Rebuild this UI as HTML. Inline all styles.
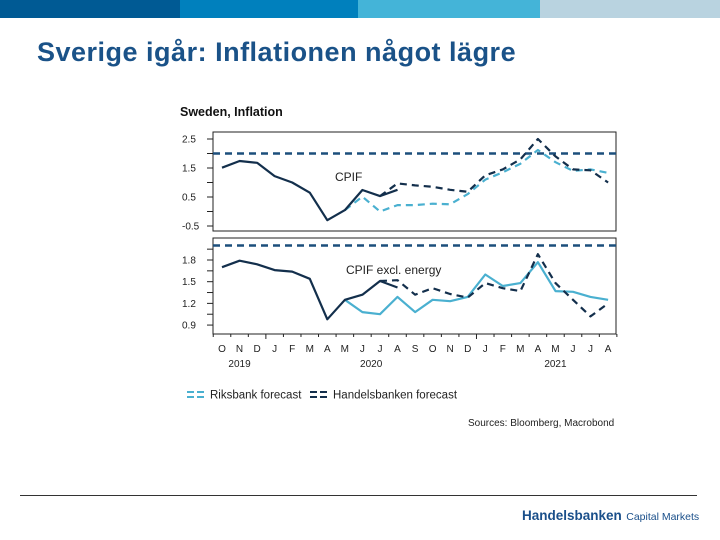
<!DOCTYPE html>
<html><head><meta charset="utf-8"><style>
body{margin:0;width:720px;height:540px;background:#fff;overflow:hidden;font-family:"Liberation Sans",sans-serif;position:relative}
.bar{position:absolute;top:0;height:18px}
</style></head><body>
<div class="bar" style="left:0;width:180px;background:#005a94"></div>
<div class="bar" style="left:180px;width:178px;background:#0080bd"></div>
<div class="bar" style="left:358px;width:182px;background:#44b4d8"></div>
<div class="bar" style="left:540px;width:180px;background:#b9d3e0"></div>
<div style="position:absolute;left:37px;top:37px;font-size:27px;letter-spacing:0.5px;font-weight:bold;color:#1a5288;white-space:nowrap">Sverige igår: Inflationen något lägre</div>
<svg id="chart" width="720" height="540" style="position:absolute;left:0;top:0" font-family="Liberation Sans, sans-serif"></svg>
<div style="position:absolute;left:20px;top:495px;width:677px;height:1px;background:#333"></div>
<div style="position:absolute;left:522px;top:507px;color:#1a4f8a;white-space:nowrap"><b style="font-size:13.5px">Handelsbanken</b> <span style="font-size:10.5px">Capital Markets</span></div>
<script>
const months=["O","N","D","J","F","M","A","M","J","J","A","S","O","N","D","J","F","M","A","M","J","J","A"];
const years=["2019","2020","2021"];
const yearIdx=[1,8.5,19];
const topTicks=[2.5,1.5,0.5,-0.5];
const botTicks=[1.8,1.5,1.2,0.9];
const target=2.0;
const cpifOutcome=[1.51,1.74,1.68,1.22,1.0,0.65,-0.3,0.05,0.74,0.53,0.75];
const cpifHB=[0.53,0.97,0.9,0.85,0.75,0.68,1.25,1.45,1.8,2.5,1.9,1.45,1.42,1.0];
const cpifRB=[0.05,0.51,0.0,0.22,0.22,0.27,0.25,0.6,1.1,1.35,1.65,2.12,1.7,1.4,1.45,1.33];
const exOutcome=[1.70,1.79,1.74,1.66,1.64,1.54,0.98,1.25,1.32,1.51,1.42];
const exHB=[1.51,1.52,1.32,1.41,1.33,1.28,1.48,1.41,1.37,1.88,1.48,1.25,1.02,1.2];
const exRB=[1.25,1.08,1.05,1.29,1.08,1.25,1.23,1.29,1.6,1.44,1.48,1.77,1.37,1.36,1.29,1.25];
const svg=document.getElementById('chart');const NS='http://www.w3.org/2000/svg';
function el(t,a,txt){const e=document.createElementNS(NS,t);for(const k in a)e.setAttribute(k,a[k]);if(txt!==undefined)e.textContent=txt;svg.appendChild(e);return e;}
const X=i=>222+i*17.55;
const Yt=v=>197-(v-0.5)*29;
const Yb=v=>260-(v-1.8)*72.3;
let e;
e=el('text',{x:180,y:116,'font-size':12.5,'font-weight':'bold',fill:'#111'},'Sweden, Inflation');


function panel(top,bot,ticks,Y,name){
 e=el('rect',{x:213,y:top,width:403,height:bot-top,fill:'none',stroke:'#222','stroke-width':1});
 
 
 ticks.forEach((t,k)=>{
  e=el('text',{x:182,y:Y(t)+3.5,'font-size':10,fill:'#222'},String(t));
  
  
 });
 const step=(ticks[0]-ticks[1])/2;
 for(let v=ticks[ticks.length-1];v<=ticks[0]+step+0.001;v+=step){const y=Y(v);if(y<top||y>bot)continue;
  e=el('line',{x1:207,x2:213,y1:y,y2:y,stroke:'#222'});
  
  }
 e=el('line',{x1:213,x2:616,y1:Y(target),y2:Y(target),stroke:'#1c4f7c','stroke-width':2.5,'stroke-dasharray':'7,5'});
 
 
}
panel(132,231,topTicks,Yt,'cpif-panel');
panel(238,334,botTicks,Yb,'cpif-excl-energy-panel');
function line(arr,start,Y,color,dash,name){
 const d=arr.map((v,i)=>(i?'L':'M')+X(start+i).toFixed(1)+','+Y(v).toFixed(1)).join('');
 const a={d:d,fill:'none',stroke:color,'stroke-width':2.2,'stroke-linejoin':'round'};if(dash)a['stroke-dasharray']=dash;
 e=el('path',a);
 
 
}
line(cpifRB,7,Yt,'#4ab0d0','7,5','cpif-riksbank-forecast');
line(cpifHB,9,Yt,'#132f4c','7,5','cpif-handelsbanken-forecast');
line(cpifOutcome,0,Yt,'#132f4c',null,'cpif-outcome');
line(exRB,7,Yb,'#4ab0d0',null,'excl-energy-riksbank-forecast');
line(exHB,9,Yb,'#132f4c','7,5','excl-energy-handelsbanken-forecast');
line(exOutcome,0,Yb,'#132f4c',null,'excl-energy-outcome');
e=el('text',{x:335,y:181,'font-size':12,fill:'#222'},'CPIF');


e=el('text',{x:346,y:274,'font-size':12,fill:'#222'},'CPIF excl. energy');


for(let i=0;i<=months.length;i++){const x=X(i-0.5);
 e=el('line',{x1:x,x2:x,y1:334,y2:i==3||i==15?339:337,stroke:'#222'});
 
 }
months.forEach((m,i)=>{e=el('text',{x:X(i),y:352,'font-size':10,'text-anchor':'middle',fill:'#222'},m);
 
 });
years.forEach((y,k)=>{e=el('text',{x:X(yearIdx[k]),y:367,'font-size':10,'text-anchor':'middle',fill:'#222'},y);
 
 });
[[187,'#4ab0d0','Riksbank forecast'],[310,'#132f4c','Handelsbanken forecast']].forEach(([x,c,t])=>{
 e=el('line',{x1:x,x2:x+20,y1:392,y2:392,stroke:c,'stroke-width':2,'stroke-dasharray':'7,3'});
 
 
 e=el('line',{x1:x,x2:x+20,y1:397,y2:397,stroke:c,'stroke-width':2,'stroke-dasharray':'7,3'});
 
 
 e=el('text',{x:x+23,y:398.5,'font-size':11.5,fill:'#222'},t);
 
 
});
e=el('text',{x:468,y:426,'font-size':10,fill:'#222'},'Sources: Bloomberg, Macrobond');


</script>
</body></html>
